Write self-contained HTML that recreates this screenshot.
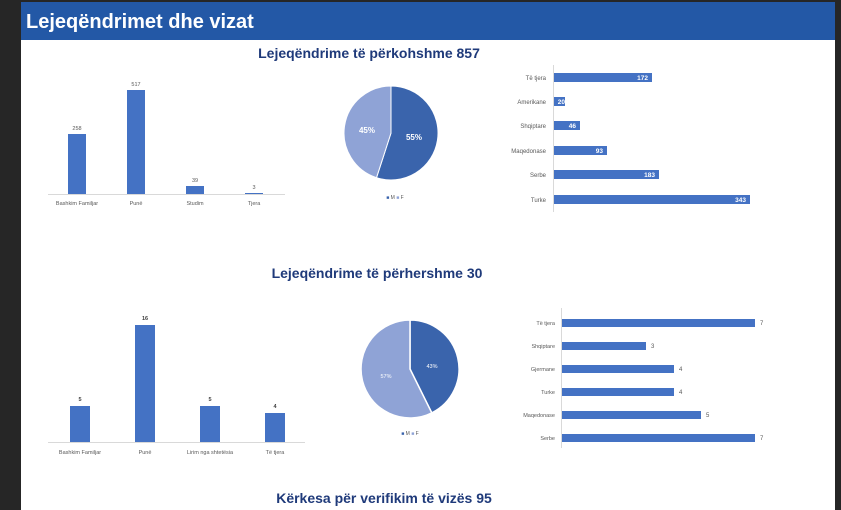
<!DOCTYPE html>
<html><head><meta charset="utf-8"><style>
html,body{margin:0;padding:0;width:841px;height:510px;overflow:hidden;background:#262626}
svg{display:block}
</style></head><body>
<svg width="841" height="510" viewBox="0 0 841 510" xmlns="http://www.w3.org/2000/svg" font-family="Liberation Sans, sans-serif">
<rect x="0" y="0" width="841" height="510" fill="#262626"/>
<rect x="21" y="2" width="814" height="508" fill="#ffffff"/>
<rect x="21" y="2" width="814" height="38" fill="#2358a6"/>
<text x="26" y="28" fill="#fff" font-size="20" font-weight="bold">Lejeqëndrimet dhe vizat</text>

<g fill="#1f3a7a" font-weight="bold" font-size="14" text-anchor="middle">
<text x="369" y="58">Lejeqëndrime të përkohshme 857</text>
<text x="377" y="278">Lejeqëndrime të përhershme 30</text>
<text x="384" y="503">Kërkesa për verifikim të vizës 95</text>
</g>

<!-- top bar chart -->
<line x1="48" y1="194.5" x2="285" y2="194.5" stroke="#d9d9d9"/>
<g fill="#4472c4">
<rect x="68" y="134" width="18" height="60"/>
<rect x="127" y="90" width="18" height="104"/>
<rect x="186" y="186" width="18" height="8"/>
<rect x="245" y="193" width="18" height="1"/>
</g>
<g font-size="5.5" fill="#595959" text-anchor="middle">
<text x="77" y="130">258</text><text x="136" y="86">517</text><text x="195" y="182">39</text><text x="254" y="189">3</text>
<text x="77" y="205">Bashkim Familjar</text><text x="136" y="205">Punë</text><text x="195" y="205">Studim</text><text x="254" y="205">Tjera</text>
</g>

<!-- pie 1 -->
<path d="M391,133 L391,86 A47,47 0 1 1 376.5,177.7 Z" fill="#3a64ac" stroke="#fff" stroke-width="1"/>
<path d="M391,133 L376.5,177.7 A47,47 0 0 1 391,86 Z" fill="#8fa3d6" stroke="#fff" stroke-width="1"/>
<text x="414" y="140" fill="#fff" font-size="8" font-weight="bold" text-anchor="middle">55%</text>
<text x="367" y="133" fill="#fff" font-size="8" font-weight="bold" text-anchor="middle">45%</text>
<text x="395" y="199" font-size="5" fill="#595959" text-anchor="middle"><tspan fill="#3a64ac">■</tspan> M  <tspan fill="#8fa3d6">■</tspan> F</text>

<!-- hbar 1 -->
<line x1="553.5" y1="65" x2="553.5" y2="212" stroke="#d9d9d9"/>
<g fill="#4472c4">
<rect x="554" y="73" width="98" height="9"/>
<rect x="554" y="97" width="11" height="9"/>
<rect x="554" y="121" width="26" height="9"/>
<rect x="554" y="146" width="53" height="9"/>
<rect x="554" y="170" width="105" height="9"/>
<rect x="554" y="195" width="196" height="9"/>
</g>
<g font-size="6" fill="#595959" text-anchor="end">
<text x="546" y="80">Të tjera</text><text x="546" y="104">Amerikane</text><text x="546" y="128">Shqiptare</text><text x="546" y="153">Maqedonase</text><text x="546" y="177">Serbe</text><text x="546" y="202">Turke</text>
</g>
<g font-size="6.5" fill="#fff" font-weight="bold" text-anchor="end">
<text x="648" y="80">172</text><text x="565" y="104">20</text><text x="576" y="128">46</text><text x="603" y="153">93</text><text x="655" y="177">183</text><text x="746" y="202">343</text>
</g>

<!-- bottom bar -->
<line x1="48" y1="442.5" x2="305" y2="442.5" stroke="#d9d9d9"/>
<g fill="#4472c4">
<rect x="70" y="406" width="20" height="36"/>
<rect x="135" y="325" width="20" height="117"/>
<rect x="200" y="406" width="20" height="36"/>
<rect x="265" y="413" width="20" height="29"/>
</g>
<g font-size="5.5" fill="#404040" text-anchor="middle" font-weight="bold">
<text x="80" y="401">5</text><text x="145" y="320">16</text><text x="210" y="401">5</text><text x="275" y="408">4</text>
</g>
<g font-size="5.5" fill="#595959" text-anchor="middle">
<text x="80" y="454">Bashkim Familjar</text><text x="145" y="454">Punë</text><text x="210" y="454">Lirim nga shtetësia</text><text x="275" y="454">Të tjera</text>
</g>

<!-- pie 2 -->
<path d="M410,369 L410,320 A49,49 0 0 1 431.8,412.9 Z" fill="#3a64ac" stroke="#fff" stroke-width="1.5"/>
<path d="M410,369 L431.8,412.9 A49,49 0 1 1 410,320 Z" fill="#8fa3d6" stroke="#fff" stroke-width="1.5"/>
<text x="432" y="368" fill="#fff" font-size="5.5" text-anchor="middle">43%</text>
<text x="386" y="378" fill="#fff" font-size="5.5" text-anchor="middle">57%</text>
<text x="410" y="435" font-size="5" fill="#595959" text-anchor="middle"><tspan fill="#3a64ac">■</tspan> M <tspan fill="#8fa3d6">■</tspan> F</text>

<!-- hbar 2 -->
<line x1="561.5" y1="308" x2="561.5" y2="448" stroke="#d9d9d9"/>
<g fill="#4472c4">
<rect x="562" y="319" width="193" height="8"/>
<rect x="562" y="342" width="84" height="8"/>
<rect x="562" y="365" width="112" height="8"/>
<rect x="562" y="388" width="112" height="8"/>
<rect x="562" y="411" width="139" height="8"/>
<rect x="562" y="434" width="193" height="8"/>
</g>
<g font-size="5.5" fill="#595959" text-anchor="end">
<text x="555" y="325">Të tjera</text><text x="555" y="348">Shqiptare</text><text x="555" y="371">Gjermane</text><text x="555" y="394">Turke</text><text x="555" y="417">Maqedonase</text><text x="555" y="440">Serbe</text>
</g>
<g font-size="6" fill="#595959">
<text x="760" y="325">7</text><text x="651" y="348">3</text><text x="679" y="371">4</text><text x="679" y="394">4</text><text x="706" y="417">5</text><text x="760" y="440">7</text>
</g>
</svg>
</body></html>
